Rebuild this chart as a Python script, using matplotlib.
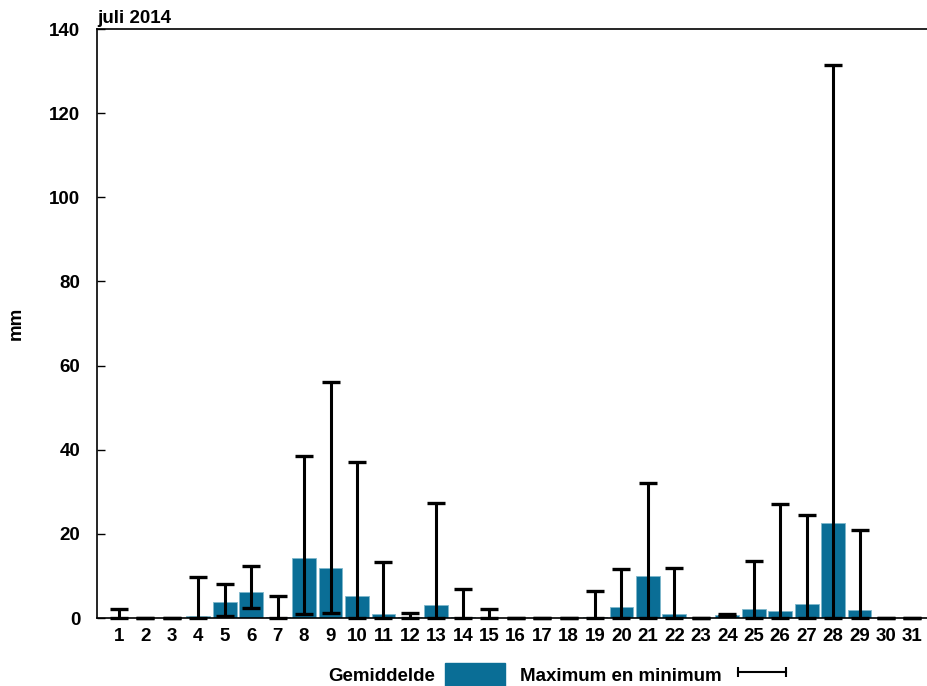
import matplotlib
matplotlib.use("Agg")
import matplotlib.pyplot as plt
import numpy as np
from matplotlib.patches import Patch
from matplotlib.lines import Line2D

plt.rcParams['font.family'] = ['Liberation Sans', 'DejaVu Sans']
plt.rcParams['font.weight'] = 'bold'

# neerslag juli 2014 (mm)
dagen = list(range(1, 32))
gemiddelde = [0.1, 0.0, 0.0, 0.5, 3.9, 6.1, 0.2, 14.2, 11.8, 5.3,
              1.0, 0.3, 3.0, 0.3, 0.1, 0.0, 0.0, 0.0, 0.3, 2.7,
              9.9, 1.0, 0.0, 0.8, 2.1, 1.6, 3.4, 22.6, 1.9, 0.0, 0.0]
maximum = [2.2, 0.0, 0.0, 9.7, 8.0, 12.3, 5.3, 38.5, 56.2, 37.0,
           13.4, 1.2, 27.3, 7.0, 2.2, 0.0, 0.0, 0.0, 6.4, 11.7,
           32.0, 12.0, 0.0, 0.9, 13.5, 27.0, 24.5, 131.5, 21.0, 0.0, 0.0]
minimum = [0.0, 0.0, 0.0, 0.0, 0.5, 2.3, 0.0, 1.0, 1.1, 0.0,
           0.0, 0.0, 0.0, 0.0, 0.0, 0.0, 0.0, 0.0, 0.0, 0.0,
           0.0, 0.0, 0.0, 0.5, 0.0, 0.0, 0.0, 0.0, 0.0, 0.0, 0.0]

kleur = '#0a6e96'
fs = 13.5

fig = plt.figure(figsize=(9.27, 6.86), dpi=100)
ax = fig.add_axes([0.1046, 0.0991, 0.8954, 0.8586])

x = np.array(dagen)
gem = np.array(gemiddelde)
ax.bar(x, gem, width=0.9, color=kleur, edgecolor='#7fb8cc', linewidth=0.6, zorder=2)

mx = np.array(maximum)
mn = np.array(minimum)
eb = ax.errorbar(x, (mx + mn) / 2, yerr=(mx - mn) / 2, fmt='none', ecolor='black',
                 elinewidth=2.2, capsize=6.3, capthick=2.4, zorder=3)
for art in eb.lines[1] + eb.lines[2]:
    art.set_clip_on(False)

ax.set_xlim(0.17, 31.55)
ax.set_ylim(0, 140)
ax.set_yticks(range(0, 141, 20))
ax.set_xticks(dagen)
ax.tick_params(axis='y', direction='in', length=6, width=1, pad=12, labelsize=fs)
ax.tick_params(axis='x', length=0, pad=7, labelsize=fs)
for lab in ax.get_xticklabels() + ax.get_yticklabels():
    lab.set_fontweight('bold')

ax.spines['right'].set_visible(False)
for s in ['left', 'top', 'bottom']:
    ax.spines[s].set_linewidth(1.2)

ax.set_ylabel('mm', fontsize=fs, fontweight='bold')
ax.yaxis.set_label_coords(-0.087, 0.5)
ax.set_title('juli 2014', loc='left', fontsize=fs, fontweight='bold', pad=4)

handles = [Patch(facecolor=kleur, edgecolor=kleur),
           Line2D([], [], color='black', lw=1.5, marker='|', markersize=7, markeredgewidth=1.5)]
fig.legend(handles, ['Gemiddelde', 'Maximum en minimum'], loc='center',
           bbox_to_anchor=(0.604, 0.017), ncol=2, frameon=False, markerfirst=False,
           numpoints=2, handlelength=3.2, handleheight=1.5, columnspacing=0.8,
           handletextpad=0.55, prop={'weight': 'bold', 'size': fs})

fig.savefig('out.png', dpi=100)
